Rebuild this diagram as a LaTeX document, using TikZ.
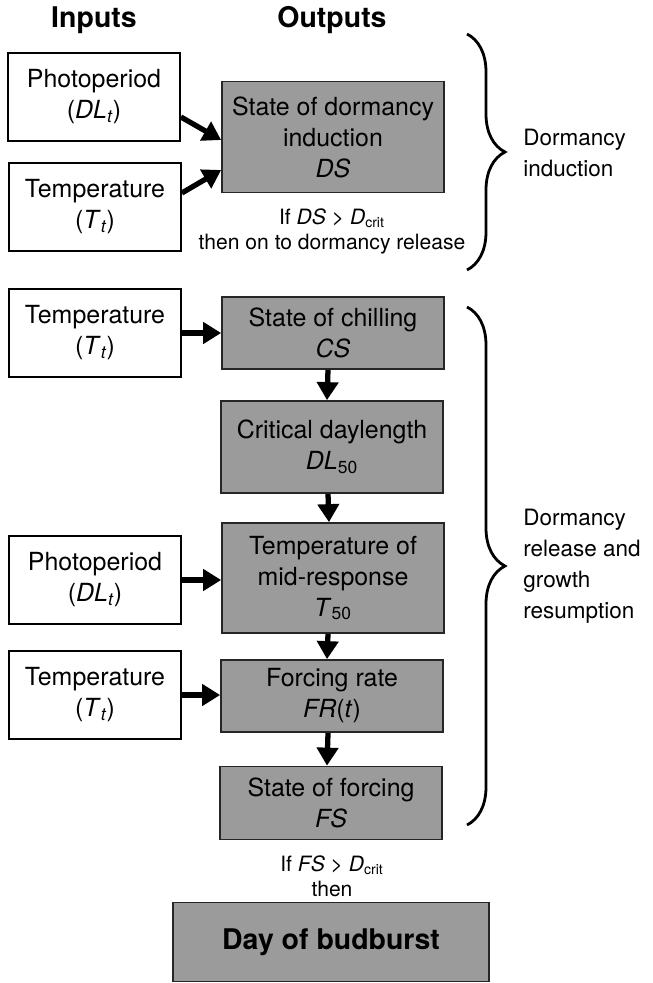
\documentclass[tikz,border=0pt]{standalone}
\usepackage{amsmath}
\usepackage{fontspec}
\setmainfont{TeX Gyre Heros}
\usepackage{xcolor}
\definecolor{boxgray}{RGB}{155,155,155}
\usepackage{tikz}
\usetikzlibrary{arrows.meta, positioning, calc, decorations.pathreplacing}
\newcommand{\isub}[1]{$_{\textit{#1}}$}
\newcommand{\usub}[1]{$_{\text{#1}}$}
\tikzset{
  inbox/.style={
    rectangle, draw=black, fill=white, line width=1pt,
    minimum width=3.44cm, minimum height=1.76cm,
    align=center, inner sep=1pt, font=\fontsize{14.2}{17.6}\selectfont},
  outbox/.style={
    rectangle, draw=black!85, fill=boxgray, line width=1pt,
    minimum width=4.44cm,
    align=center, inner sep=1pt, font=\fontsize{14.2}{17.6}\selectfont},
  condtext/.style={
    align=center, inner sep=0pt, font=\fontsize{12}{14.2}\selectfont},
  headtext/.style={
    inner sep=0pt, font=\fontsize{16.2}{19}\selectfont\bfseries},
  bracetext/.style={
    anchor=west, align=left, inner sep=0pt,
    font=\fontsize{12.8}{17.6}\selectfont},
  arr/.style={-{Triangle[length=0.36cm, width=0.42cm]}, line width=3pt},
  curly/.style={decorate, decoration={brace, amplitude=0.76cm, aspect=0.5},
    line width=1.6pt},
}

\begin{document}
\begin{tikzpicture}[x=0.02cm, y=-0.02cm]
  \useasboundingbox (0,0) rectangle (652,983);

  % column heads
  \node[headtext] (hin) at (94,20) {Inputs};
  \node[headtext] (hout) at (332,20) {Outputs};

  % dormancy induction
  \node[inbox] (pp1) at (94,97) {Photoperiod\\(\textit{DL}\isub{t})};
  \node[inbox] (tp1) at (95,207) {Temperature\\(\textit{T}\isub{t})};
  \node[outbox, minimum height=2.22cm] (ds) at (333,137)
    {State of dormancy\\induction\\\textit{DS}};
  \node[condtext] (dscond) at (332,231)
    {If \textit{DS} > \textit{D}\usub{crit}\\then on to dormancy release};
  \draw[arr] ([yshift=-0.4cm]pp1.east) -- ([yshift=-0.06cm]ds.west);
  \draw[arr] ([yshift=0.28cm]tp1.east) -- ([yshift=-0.66cm]ds.west);

  % dormancy release and growth resumption
  \node[inbox] (tp2) at (95,333) {Temperature\\(\textit{T}\isub{t})};
  \node[outbox, minimum height=1.44cm] (cs) at (333,333)
    {State of chilling\\\textit{CS}};
  \node[outbox, minimum height=1.84cm] (dl) at (332,447)
    {Critical daylength\\\textit{DL}\usub{50}};
  \node[inbox] (pp2) at (95,580) {Photoperiod\\(\textit{DL}\isub{t})};
  \node[outbox, minimum height=2.2cm] (tf) at (333,578)
    {Temperature of\\mid-response\\\textit{T}\usub{50}};
  \node[inbox] (tp3) at (95,695) {Temperature\\(\textit{T}\isub{t})};
  \node[outbox, minimum height=1.44cm] (fr) at (332,696)
    {Forcing rate\\\textit{FR}(\textit{t})};
  \node[outbox, minimum height=1.46cm] (fs) at (331,803)
    {State of forcing\\\textit{FS}};
  \node[condtext] (fscond) at (332,876)
    {If \textit{FS} > \textit{D}\usub{crit}\\then};
  \node[outbox, minimum width=6.32cm, minimum height=1.58cm,
        font=\fontsize{16.2}{19}\selectfont\bfseries] (bud) at (331,942)
    {Day of budburst};

  \draw[arr] (tp2.east) -- (tp2.east -| cs.west);
  \draw[arr] (pp2.east) -- (pp2.east -| tf.west);
  \draw[arr] (tp3.east) -- (tp3.east -| fr.west);
  \draw[arr] ([xshift=-0.1cm]cs.south) -- ([xshift=-0.1cm]dl.north);
  \draw[arr] ([xshift=-0.08cm]dl.south) -- ([xshift=-0.08cm]tf.north);
  \draw[arr] ([xshift=-0.1cm]tf.south) -- ([xshift=-0.1cm]fr.north);
  \draw[arr] ([xshift=-0.08cm]fr.south) -- ([xshift=-0.08cm]fs.north);

  % braces
  \coordinate (b1top) at (467,34);
  \coordinate (b1bot) at (467,270);
  \coordinate (b2top) at (467,307);
  \coordinate (b2bot) at (467,825);
  \draw[curly] (b1top) -- (b1bot);
  \draw[curly] (b2top) -- (b2bot);
  \node[bracetext] (lind) at (523,153) {Dormancy\\induction};
  \node[bracetext] (lrel) at (523,566)
    {Dormancy\\release and\\growth\\resumption};
\end{tikzpicture}
\end{document}
